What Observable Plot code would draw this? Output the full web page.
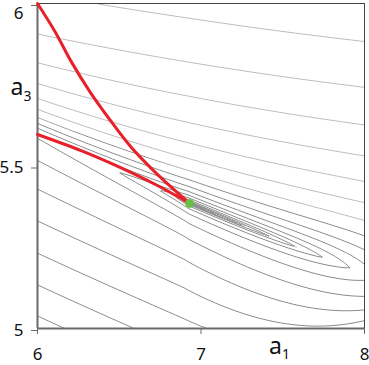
<!DOCTYPE html>
<html>
<head>
<meta charset="utf-8">
<script src="https://cdn.jsdelivr.net/npm/d3@7"></script>
<script src="https://cdn.jsdelivr.net/npm/@observablehq/plot@0.6"></script>
<style>
  html, body { margin: 0; padding: 0; background: #fff; }
  #chart svg { display: block; }
</style>
</head>
<body>
<div id="chart"></div>
<script>
// ---- axes / ticks ----
const xDomain = [6, 8];
const yDomain = [5, 6];
const xTicks = [6, 7, 8];
const yTicks = [5, 5.5, 6];
const xAxisLabel = {a1: 7.48, main: "a", sub: "1"};
const yAxisLabel = {a3: 5.74, main: "a", sub: "3"};

// ---- optimisation paths ----
const steepA1 = [6.000, 6.110, 6.202, 6.324, 6.446, 6.569, 6.691, 6.813, 6.930];
const steepA3 = [6.000, 5.911, 5.825, 5.726, 5.640, 5.560, 5.495, 5.437, 5.385];
const flatA1  = [6.000, 6.263, 6.508, 6.722, 6.930];
const flatA3  = [5.597, 5.548, 5.495, 5.443, 5.385];
const minA1 = [6.930];
const minA3 = [5.385];

// ---- contour levels of the objective (log spaced) ----
const levelExp = d3.range(-17, 2);
const levels = levelExp.map(j => Math.pow(2, j));

// ---- objective surface (shape) ----
const S1 = 163, S3 = 325;                 // surface units per parameter unit
const valley = [193, -0.4684, 1.384e-4];  // valley floor
const X0 = 152;                           // position of the minimum along a1
function valleyY(X) { return valley[0] + valley[1] * X + valley[2] * X * X; }
function surface(a1, a3) {
  const X = (a1 - 6) * S1, Y = (a3 - 5) * S3;
  const t = Math.max(0, Math.min(1, X / 326));
  const d = Y - valleyY(X);
  let fp;
  if (d >= 0) {
    const A = 102 + 85 * t, p1 = 2.1 - 0.6 * t, p2 = 2.1 + 1.4 * t, b = 40;
    const a = A * Math.pow(1 + A / b, (p2 - p1) / p1);
    fp = Math.pow(d / a, p1) * Math.pow(1 + d / b, p2 - p1) + 6e-5 * d;
  } else {
    const u = Math.max(0, (t - 0.45) / 0.55);
    const lam = 43 - 32 * u;
    const K = Math.exp(Math.log(0.0036) * (1 - u) + Math.log(0.00032) * u);
    const L = 6e-5 + 6e-5 * t;
    fp = K * (Math.exp(-d / lam) - 1) - L * d;
  }
  const s = X - X0;
  const fa = s >= 0 ? 3.57e-5 * (Math.exp(s / 39.7) - 1)
                    : 1.11e-4 * (Math.pow(s * s + 9, 0.35) - Math.pow(3, 0.7));
  return fp + fa;
}

const steep = steepA1.map((v, i) => ({a1: v, a3: steepA3[i]}));
const flat = flatA1.map((v, i) => ({a1: v, a3: flatA3[i]}));
const minimum = minA1.map((v, i) => ({a1: v, a3: minA3[i]}));

const contourOptions = {
  x1: xDomain[0], x2: xDomain[1], y1: yDomain[0], y2: yDomain[1],
  value: surface,
  thresholds: levels,
  pixelSize: 1,
  fill: "none",
  strokeWidth: 1
};

const plot = Plot.plot({
  width: 369,
  height: 365,
  marginLeft: 37,
  marginRight: 5,
  marginTop: 3,
  marginBottom: 37,
  style: {fontFamily: "'Noto Sans', sans-serif", background: "#fff"},
  x: {domain: xDomain, label: null},
  y: {domain: yDomain, label: null},
  marks: [
    Plot.contour({...contourOptions, stroke: "#bdbdbd", className: "c-up"}),
    Plot.contour({...contourOptions, stroke: "#8a8a8a", className: "c-low"}),
    Plot.ruleX([xDomain[1]], {stroke: "#444", strokeWidth: 1}),
    Plot.ruleY([yDomain[1]], {stroke: "#444", strokeWidth: 1}),
    Plot.ruleX([xDomain[0]], {stroke: "#6a6a6a", strokeWidth: 2}),
    Plot.ruleY([yDomain[0]], {stroke: "#6a6a6a", strokeWidth: 2}),
    Plot.axisX(xTicks, {label: null, tickSize: 6, tickPadding: 13, fontSize: 17, stroke: "#6a6a6a", fill: "#111", tickFormat: d => String(d)}),
    Plot.axisY(yTicks, {label: null, tickSize: 6, tickPadding: 8, dy: 2, fontSize: 17, stroke: "#6a6a6a", fill: "#111", tickFormat: d => String(d)}),
    Plot.line(steep, {x: "a1", y: "a3", stroke: "#e8202a", strokeWidth: 3, curve: "catmull-rom"}),
    Plot.line(flat, {x: "a1", y: "a3", stroke: "#e8202a", strokeWidth: 3, curve: "catmull-rom"}),
    Plot.dot(minimum, {x: "a1", y: "a3", r: 4.5, fill: "#6abd45", stroke: "none"}),
    Plot.text([xAxisLabel], {x: "a1", frameAnchor: "bottom", dy: 25, text: "main", fontSize: 23, fill: "#111", className: "lab-x"}),
    Plot.text([yAxisLabel], {y: "a3", frameAnchor: "left", dx: -27, text: "main", fontSize: 23, fill: "#111", className: "lab-y"})
  ]
});

const svg = d3.select(plot);

// subscripts for the axis labels
svg.selectAll(".lab-x text").each(function() {
  d3.select(this).append("tspan").attr("font-size", 14).attr("dy", 5).text(xAxisLabel.sub);
});
svg.selectAll(".lab-y text").each(function() {
  d3.select(this).append("tspan").attr("font-size", 14).attr("dy", 6).text(yAxisLabel.sub);
});

// keep the top y tick label inside the picture
svg.selectAll("text").filter(function() {
  return this.textContent === String(yDomain[1]) && +this.getAttribute("x") < 40 &&
         this.closest("g[aria-label='y-axis tick label']");
}).attr("dy", "0.45em");

// lighter contours above the valley band, darker below
const sx = plot.scale("x"), sy = plot.scale("y");
const band = d3.range(0, 327, 2).map(X => {
  const t = X / 326;
  const a1 = 6 + X / S1;
  const a3 = 5 + (valleyY(X) + 18 + 30 * t) / S3;
  return [sx.apply(a1), sy.apply(a3)];
});
const [fx0, fx1] = [sx.apply(xDomain[0]) - 2, sx.apply(xDomain[1]) + 2];
const [fy0, fy1] = [sy.apply(yDomain[1]) - 2, sy.apply(yDomain[0]) + 2];
const line = d3.line();
const upPoly = [[fx0, fy0], ...band, [fx1, band[band.length - 1][1]], [fx1, fy0]];
const lowPoly = [[fx0, fy1], [fx0, band[0][1]], ...band, [fx1, band[band.length - 1][1]], [fx1, fy1]];
const defs = svg.insert("defs", ":first-child");
defs.append("clipPath").attr("id", "clip-up").append("path").attr("d", line(upPoly) + "Z");
defs.append("clipPath").attr("id", "clip-low").append("path").attr("d", line(lowPoly) + "Z");
svg.selectAll("g.c-up").attr("clip-path", "url(#clip-up)");
svg.selectAll("g.c-low").attr("clip-path", "url(#clip-low)");

document.getElementById("chart").appendChild(plot);
</script>
</body>
</html>
